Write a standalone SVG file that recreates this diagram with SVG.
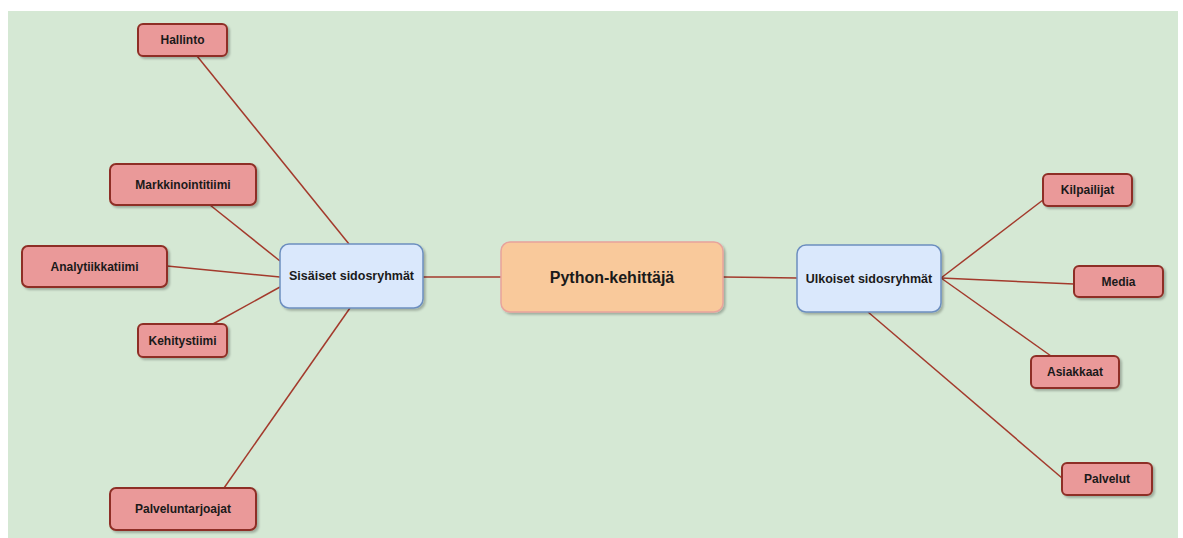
<svg xmlns="http://www.w3.org/2000/svg" width="1183" height="538" viewBox="0 0 1183 538">
<defs>
<filter id="sh" x="-20%" y="-20%" width="140%" height="150%">
<feDropShadow dx="2" dy="2" stdDeviation="1.2" flood-color="#000" flood-opacity="0.25"/>
</filter>
<style>
.red{fill:#ea9999;stroke:#8e2e25;stroke-width:2;filter:url(#sh)}
.blue{fill:#dae8fc;stroke:#6c8ebf;stroke-width:1.5;filter:url(#sh)}
.orange{fill:#f9c99b;stroke:#e8a39c;stroke-width:1.5;filter:url(#sh)}
.t{font-family:"Liberation Sans",Arial,sans-serif;font-weight:bold;font-size:12px;fill:#1a1a1a;text-anchor:middle;dominant-baseline:central}
.tm{font-size:12.5px}
.tb{font-size:16px}
.c line{stroke:#a33a2c;stroke-width:1.5}
</style>
</defs>
<rect x="0" y="0" width="1183" height="538" fill="#ffffff"/>
<rect x="8" y="11" width="1170" height="527" fill="#d5e8d4"/>
<g class="c" id="connectors">
<line x1="197" y1="56" x2="349" y2="244"/>
<line x1="210" y1="205" x2="280" y2="261"/>
<line x1="167" y1="266" x2="280" y2="277"/>
<line x1="213" y1="324" x2="280" y2="287"/>
<line x1="224" y1="488" x2="350" y2="308"/>
<line x1="423" y1="277" x2="501" y2="277"/>
<line x1="723" y1="277" x2="797" y2="278"/>
<line x1="941" y1="278" x2="1043" y2="200"/>
<line x1="941" y1="278" x2="1074" y2="284"/>
<line x1="941" y1="278" x2="1051" y2="356"/>
<line x1="868" y1="312" x2="1062" y2="478"/>
</g>
<g id="hallinto"><rect class="red" x="138" y="24" width="89" height="32" rx="5"/><text class="t" x="182.5" y="40">Hallinto</text></g>
<g id="markkinointitiimi"><rect class="red" x="110" y="164" width="146" height="41" rx="6"/><text class="t" x="183" y="184.5">Markkinointitiimi</text></g>
<g id="analytiikkatiimi"><rect class="red" x="22" y="246" width="145" height="41" rx="6"/><text class="t" x="94.5" y="266.5">Analytiikkatiimi</text></g>
<g id="kehitystiimi"><rect class="red" x="138" y="324" width="89" height="33" rx="5"/><text class="t" x="182.5" y="340.5">Kehitystiimi</text></g>
<g id="palveluntarjoajat"><rect class="red" x="110" y="488" width="146" height="42" rx="6"/><text class="t" x="183" y="509">Palveluntarjoajat</text></g>
<g id="sisaiset"><rect class="blue" x="280" y="244" width="143" height="64" rx="9"/><text class="t tm" x="351.5" y="276">Sisäiset sidosryhmät</text></g>
<g id="python"><rect class="orange" x="501" y="242" width="222" height="70" rx="9"/><text class="t tb" x="612" y="277">Python-kehittäjä</text></g>
<g id="ulkoiset"><rect class="blue" x="797" y="245" width="144" height="67" rx="9"/><text class="t tm" x="869" y="278.5">Ulkoiset sidosryhmät</text></g>
<g id="kilpailijat"><rect class="red" x="1043" y="174" width="89" height="32" rx="5"/><text class="t" x="1087.5" y="190">Kilpailijat</text></g>
<g id="media"><rect class="red" x="1074" y="266" width="89" height="31" rx="5"/><text class="t" x="1118.5" y="281.5">Media</text></g>
<g id="asiakkaat"><rect class="red" x="1031" y="356" width="88" height="32" rx="5"/><text class="t" x="1075" y="372">Asiakkaat</text></g>
<g id="palvelut"><rect class="red" x="1062" y="463" width="90" height="32" rx="5"/><text class="t" x="1107" y="479">Palvelut</text></g>
</svg>
